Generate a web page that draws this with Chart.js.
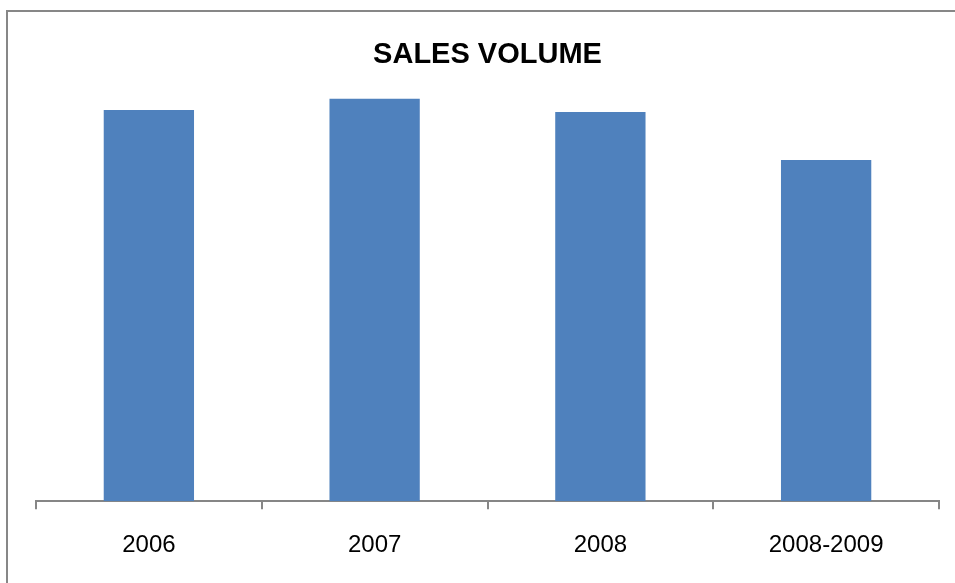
<!DOCTYPE html>
<html>
<head>
<meta charset="utf-8">
<script src="https://cdn.jsdelivr.net/npm/chart.js@4/dist/chart.umd.min.js"></script>
<style>
  html, body { margin: 0; padding: 0; background: #ffffff; }
  #wrap { position: relative; width: 955px; height: 583px; overflow: hidden; }
  #frame { position: absolute; left: 6px; top: 10px; width: 1000px; height: 700px;
           border-top: 2px solid #878787; border-left: 2px solid #878787; pointer-events: none; }
  canvas { position: absolute; left: 0; top: 0; }
</style>
</head>
<body>
<div id="wrap">
  <canvas id="c" width="955" height="583"></canvas>
  <div id="frame"></div>
</div>
<script>
const titleText = "SALES VOLUME";
const categories = ["2006", "2007", "2008", "2008-2009"];
const salesVolume = [390, 401, 388, 340];
const yMax = 420;

new Chart(document.getElementById("c"), {
  type: "bar",
  data: {
    labels: categories,
    datasets: [{
      label: "Sales volume",
      data: salesVolume,
      backgroundColor: "#4F81BD",
      borderWidth: 0,
      barPercentage: 0.4,
      categoryPercentage: 1.0
    }]
  },
  options: {
    responsive: false,
    animation: false,
    layout: { padding: { left: 36, right: 16, top: 0, bottom: 1 } },
    plugins: {
      legend: { display: false },
      tooltip: { enabled: false },
      title: {
        display: true,
        text: titleText,
        color: "#000000",
        font: { family: "Liberation Sans", size: 29, weight: "bold" },
        padding: { top: 38, bottom: 7 }
      }
    },
    scales: {
      x: {
        grid: { display: true, drawOnChartArea: false, drawTicks: true, tickLength: 8, color: "#868686", lineWidth: 2, offset: true },
        border: { display: true, color: "#868686", width: 2 },
        ticks: { color: "#000000", padding: 22, font: { family: "Liberation Sans", size: 24 } }
      },
      y: {
        display: false,
        min: 0,
        max: yMax
      }
    }
  }
});
</script>
</body>
</html>
